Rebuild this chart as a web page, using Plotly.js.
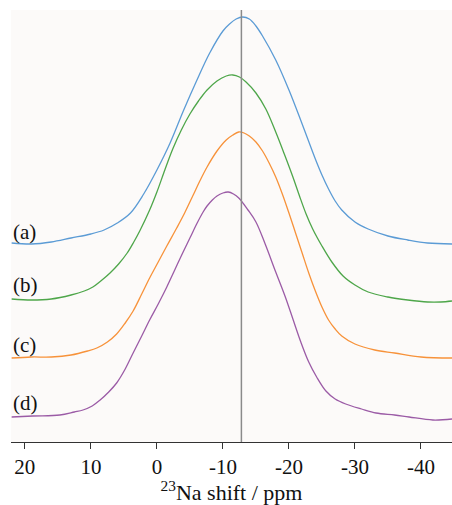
<!DOCTYPE html>
<html>
<head>
<meta charset="utf-8">
<script src="https://cdn.plot.ly/plotly-3.0.1.min.js"></script>
<style>html,body{margin:0;padding:0;background:#fff;}#chart{width:452px;height:505px;}</style>
</head>
<body>
<div id="chart"></div>
<script>
// 23Na shift (ppm) and stacked intensity (arbitrary units) per spectrum
const shiftA = [22, 19, 16, 13, 10, 8, 6, 4, 2, 0, -2, -4, -6, -8, -10, -11, -12, -13, -14, -15, -16, -18, -20, -22, -24, -25, -26, -27, -28, -30, -32, -35, -38, -41, -44.7];
const intA   = [199, 198, 200, 204, 208, 212, 219, 229, 248, 272, 299, 331, 361, 389, 411, 418, 423, 425, 423, 416, 406, 382, 352, 318, 283, 267, 253, 241, 232, 220, 213, 206, 202, 199, 198];

const shiftB = [22, 19, 16, 13, 11, 9.7, 8.5, 7.1, 5.8, 4.5, 3.5, 2.6, 1.1, 0, -1.2, -2.4, -3.7, -5.0, -6.3, -7.6, -9.1, -10.5, -11.5, -12.5, -13.5, -15.0, -16.5, -18.0, -19.3, -20.6, -21.6, -22.6, -23.6, -25.0, -26.5, -28.2, -30.0, -32.0, -35.0, -38.0, -41.0, -43.0, -44.7];
const intB   = [143, 142, 143, 147, 151, 155, 161, 169, 178, 189, 200, 211, 232, 250, 272, 293, 312, 328, 341, 352, 361, 366, 367, 365, 360, 349, 333, 310, 288, 265, 246, 228, 213, 196, 180, 166, 157, 150, 145, 142, 140, 140, 141];

const shiftC = [22, 19, 16, 13, 10.5, 9.1, 7.5, 6.1, 4.8, 3.6, 2.3, 1.1, -0.2, -1.5, -3.0, -4.2, -5.5, -6.5, -7.6, -9.1, -10.5, -11.5, -12.4, -13.2, -14, -15, -16, -17, -18, -19, -20, -21, -22, -23, -24, -25, -26, -27, -28, -30, -33, -36, -40, -44.7];
const intC   = [84, 85, 85, 87, 91, 94, 100, 108, 119, 131, 148, 164, 180, 196, 214, 229, 247, 261, 275, 291, 302, 307, 310, 309, 306, 300, 291, 279, 265, 248, 229, 209, 189, 169, 151, 135, 122, 113, 106, 98, 92, 89, 85, 84];

const shiftD = [22, 18.8, 14.7, 12.5, 11.2, 9.8, 8.6, 7.3, 6.1, 4.8, 3.6, 2.3, 1.1, -0.2, -1.5, -2.7, -3.9, -5.0, -6.1, -7.0, -7.6, -8.4, -9.1, -10.0, -10.8, -11.6, -12.4, -13.8, -15.0, -16.4, -18.0, -19.4, -20.6, -21.8, -23.0, -24.2, -25.6, -27.0, -28.6, -31, -33.2, -36, -38.2, -41.8, -44.7];
const intD   = [25, 26, 27, 30, 32, 36, 42, 50, 59, 73, 89, 106, 122, 138, 155, 172, 189, 204, 219, 230, 236, 242, 246, 249, 250, 248, 244, 232, 220, 198, 170, 146, 123, 100, 80, 65, 51, 43, 38, 33, 29, 27, 25, 22, 23];

const seriesLabels = ['(a)', '(b)', '(c)', '(d)'];
const tickVals = [20, 10, 0, -10, -20, -30, -40];
const tickText = ['20', '10', '0', '-10', '-20', '-30', '-40'];
const refShift = -12.8;

const colors = ['#5b9bd5', '#4ea64a', '#f7923a', '#9b5ba6'];
const xs = [shiftA, shiftB, shiftC, shiftD];
const ys = [intA, intB, intC, intD];

const traces = xs.map((x, i) => ({
  x: x, y: ys[i], type: 'scatter', mode: 'lines',
  line: {color: colors[i], width: 1.3, shape: 'spline', smoothing: 1},
  hoverinfo: 'skip', showlegend: false
}));

const labelY = [210, 157, 97, 39];
const font = {family: 'Liberation Serif, Times New Roman, serif', size: 21, color: '#111'};
const annotations = seriesLabels.map((t, i) => ({
  text: t, xref: 'paper', yref: 'y', x: 0, y: labelY[i],
  xanchor: 'left', yanchor: 'middle', showarrow: false, font: font
}));

Plotly.newPlot('chart', traces, {
  width: 452, height: 505,
  margin: {l: 11, r: 0, t: 10, b: 63, pad: 0},
  paper_bgcolor: '#ffffff',
  plot_bgcolor: '#fcfaf9',
  font: font,
  xaxis: {
    range: [22.1, -44.7], tickmode: 'array', tickvals: tickVals, ticktext: tickText,
    ticks: 'outside', ticklen: 6, tickwidth: 1, tickcolor: '#333',
    showline: true, linecolor: '#333', linewidth: 1, mirror: false,
    showgrid: false, zeroline: false, tickfont: font,
    title: {text: '<sup>23</sup>Na shift / ppm', font: {family: font.family, size: 22, color: '#111'}, standoff: 5}
  },
  yaxis: {range: [0, 432], visible: false, showgrid: false, zeroline: false},
  shapes: [{type: 'line', xref: 'x', yref: 'paper', x0: refShift, x1: refShift, y0: 0, y1: 1,
            line: {color: '#8a8a8a', width: 1.5}}],
  annotations: annotations
}, {staticPlot: true, displayModeBar: false});
</script>
</body>
</html>
